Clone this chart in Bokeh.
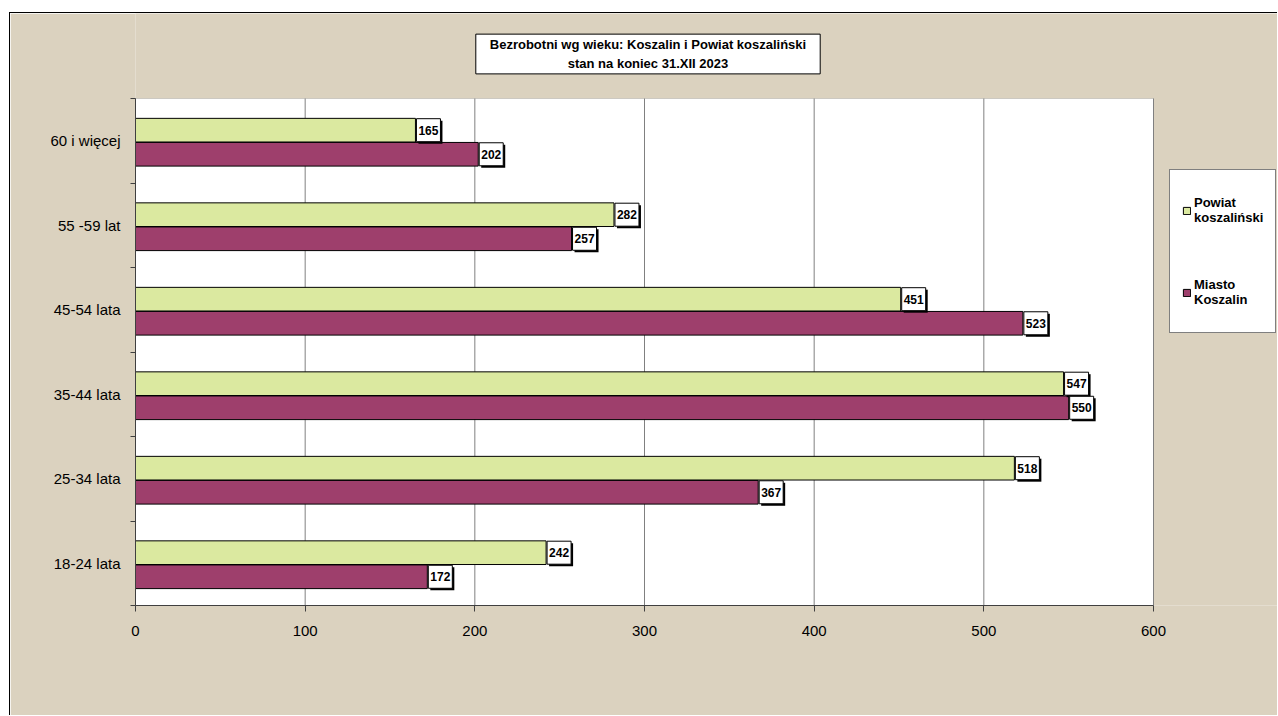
import numpy as np
from bokeh.plotting import figure
from bokeh.models import (FixedTicker, Legend, LegendItem, Range1d, BoxAnnotation, Label)
from bokeh.core.properties import value
from bokeh.embed import file_html
from bokeh.resources import INLINE

categories = ["18-24 lata", "25-34 lata", "35-44 lata", "45-54 lata", "55 -59 lat", "60 i więcej"]
powiat = [242, 518, 547, 451, 282, 165]
miasto = [172, 367, 550, 523, 257, 202]
x_ticks = [0, 100, 200, 300, 400, 500, 600]
x_max = 600
title_text = "Bezrobotni wg wieku: Koszalin i Powiat koszaliński\nstan na koniec 31.XII 2023"

BG = "#dbd2bf"
GREEN = "#dbe9a0"
PURPLE = "#9e3f6c"
FONT = "Liberation Sans"

OX, OY = 10, 13                  # content origin on page
W, H = 1268, 703
PL, PR, PT, PB = 135, 1153, 98, 605   # white plot area edges on page
FR, FT = OX + W, OY               # frame extends to right / top edge
ncat = len(categories)
ppu = (PR - PL) / x_max
ypx = (PB - PT) / ncat

p = figure(width=W, height=H, output_backend="svg", toolbar_location=None,
           x_range=Range1d(0, (FR - PL) / ppu), y_range=Range1d(0, (PB - FT) / ypx),
           min_border_left=PL - OX, min_border_right=0, min_border_top=0,
           min_border_bottom=H - (PB - OY))
p.border_fill_color = BG
p.background_fill_color = BG
p.outline_line_color = None
p.styles = {"margin-left": "9px", "margin-top": "12px",
            "border-left": "1px solid black", "border-top": "1px solid black"}

# white plot area
p.add_layout(BoxAnnotation(left=0, right=x_max, bottom=0, top=ncat, fill_color="white",
                           fill_alpha=1, line_color="#808080", line_width=1, level="image"))

# vertical grid lines inside the plot area
p.segment(x0=x_ticks, y0=0, x1=x_ticks, y1=ncat, line_color="#808080", line_width=1)
p.xgrid.grid_line_color = None
p.ygrid.grid_line_color = None

pos = np.arange(ncat) + 0.5
bh = 0.28
g_off = 0.125
m_off = -0.16
r1 = p.hbar(y=pos + g_off, right=powiat, left=0, height=bh, fill_color=GREEN, line_color="black", line_width=1)
r2 = p.hbar(y=pos + m_off, right=miasto, left=0, height=bh, fill_color=PURPLE, line_color="black", line_width=1)

# value label boxes with shadows
box_c = (1 + 12) / ppu
for vals, off in ((powiat, g_off), (miasto, m_off)):
    v = np.array(vals)
    p.rect(x=v + box_c + 2 / ppu, y=pos + off - 2 / ypx, width=24, height=23,
           width_units="screen", height_units="screen", fill_color="black", line_color=None)
    p.rect(x=v + box_c, y=pos + off, width=24, height=23,
           width_units="screen", height_units="screen", fill_color="white", line_color="black", line_width=1)
    p.text(x=v + box_c, y=pos + off, text=[str(t) for t in vals], text_align="center",
           text_baseline="middle", text_font=value(FONT), text_font_size="12px",
           text_font_style="bold", text_color="black")

# axes
p.xaxis.bounds = (0, x_max)
p.xaxis.ticker = FixedTicker(ticks=x_ticks)
p.xaxis.major_label_text_font = FONT
p.xaxis.major_label_text_font_size = "15px"
p.xaxis.major_label_text_color = "black"
p.xaxis.major_tick_out = 6
p.xaxis.major_tick_in = 0
p.xaxis.minor_tick_line_color = None
p.xaxis.axis_line_color = "#404040"
p.xaxis.major_tick_line_color = "#404040"
p.xaxis.major_label_standoff = 14

p.yaxis.bounds = (0, ncat)
p.yaxis.ticker = FixedTicker(ticks=list(pos), minor_ticks=list(range(ncat + 1)))
p.yaxis.major_label_overrides = {float(v): c for v, c in zip(pos, categories)}
p.yaxis.major_label_text_font = FONT
p.yaxis.major_label_text_font_size = "15px"
p.yaxis.major_label_text_color = "black"
p.yaxis.major_tick_line_color = None
p.yaxis.major_tick_out = 0
p.yaxis.minor_tick_out = 5
p.yaxis.minor_tick_in = 0
p.yaxis.minor_tick_line_color = "#404040"
p.yaxis.axis_line_color = "#404040"
p.yaxis.major_label_standoff = 10

# title box
title = Label(x=(647.5 - PL) / ppu, y=ncat + (PT - 53.5) / ypx, text=title_text,
              text_align="center", text_baseline="middle", text_font=FONT, text_font_size="13px",
              text_font_style="bold", text_color="black", text_line_height=1.25,
              background_fill_color="white", border_line_color="black", border_line_width=1,
              padding=dict(left=14, right=14, top=3, bottom=3))
p.add_layout(title)

legend = Legend(items=[LegendItem(label="Powiat\nkoszaliński", renderers=[r1]),
                       LegendItem(label="Miasto\nKoszalin", renderers=[r2])],
                location=(1169 - PL, PB - 333), orientation="vertical")
legend.label_text_font = FONT
legend.label_text_font_size = "13px"
legend.label_text_font_style = "bold"
legend.label_text_color = "black"
legend.glyph_width = 9
legend.glyph_height = 9
legend.label_standoff = 3
legend.label_height = 56
legend.spacing = 26
legend.padding = 12
legend.margin = 0
legend.border_line_color = "black"
legend.border_line_width = 1
legend.background_fill_color = "white"
legend.background_fill_alpha = 1
p.add_layout(legend)

open("out.html", "w").write(file_html(p, INLINE))
